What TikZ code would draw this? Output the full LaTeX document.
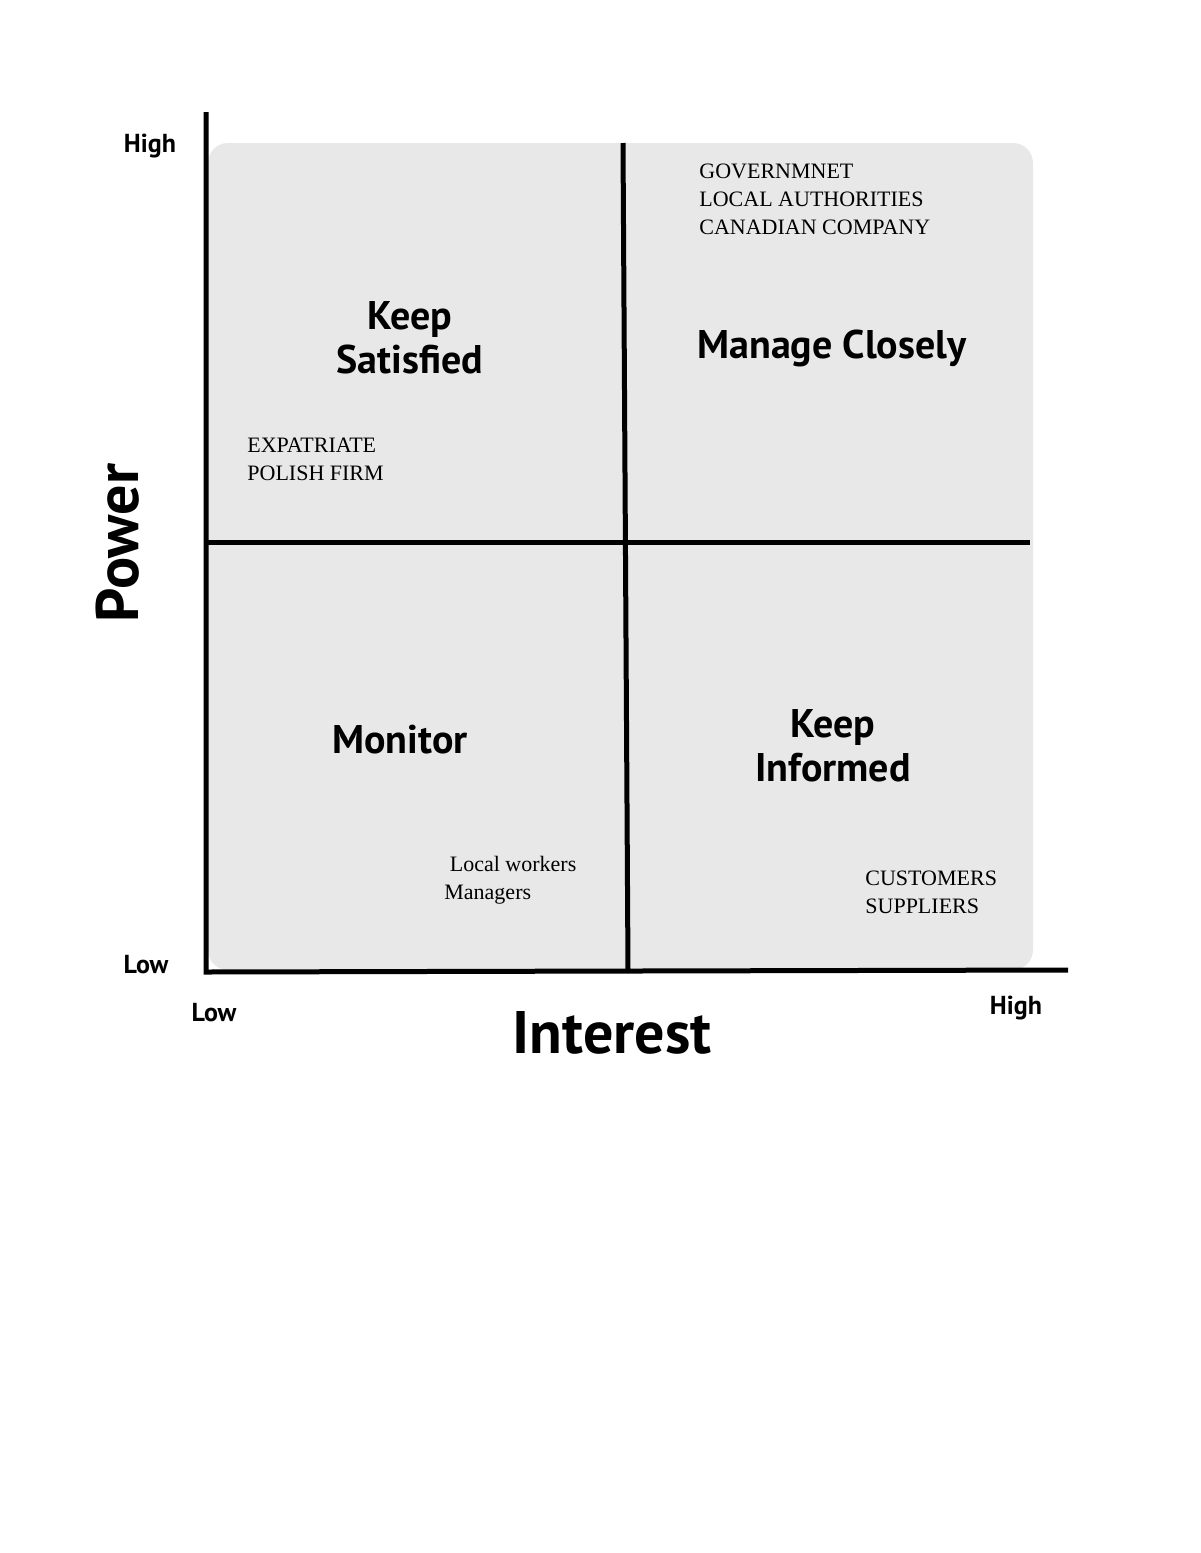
\documentclass[tikz,border=0pt]{standalone}
\usepackage{fontspec}
\setmainfont{Liberation Serif}
\setsansfont{PT Sans}
\begin{document}
\begin{tikzpicture}[x=0.5pt,y=-0.5pt,
  ttl/.style={font=\sffamily\bfseries\fontsize{20}{22}\selectfont,align=center},
  ax/.style={font=\sffamily\bfseries\fontsize{13}{15}\selectfont},
  big/.style={font=\sffamily\bfseries\fontsize{30}{32}\selectfont},
  nm/.style={font=\fontsize{11}{14}\selectfont,align=left,anchor=north west,inner sep=0},
  ln/.style={line width=2.5pt}]
\useasboundingbox (0,0) rectangle (1200,1553);
\fill[gray!18,rounded corners=10pt] (208,143) rectangle (1033,970);
\draw[ln] (623,143) -- (628,970);
\draw[ln] (208,542) -- (1030,542);
\draw[ln] (206,112) -- (206,972) -- (1068,970);
\node[ax] (h1) at (150,146) {High};
\node[ax] (l1) at (146,965) {Low};
\node[ax] (l2) at (214,1013) {Low};
\node[ax] (h2) at (1016,1008) {High};
\node[big,rotate=90] (p) at (118,543) {Power};
\node[big] (i) at (612,1033) {Interest};
\node[ttl] (ks) at (410,338) {Keep\\Satisfied};
\node[ttl] (mc) at (832,348) {Manage Closely};
\node[ttl] (mo) at (400,740) {Monitor};
\node[ttl] (ki) at (833,746) {Keep\\Informed};
\node[nm] (g) at (699,164) {GOVERNMNET\\LOCAL AUTHORITIES\\CANADIAN COMPANY};
\node[nm] (e) at (247,438) {EXPATRIATE\\POLISH FIRM};
\node[nm] (w) at (444,856) {\ Local workers\\Managers};
\node[nm] (c) at (865,871) {CUSTOMERS\\SUPPLIERS};
\end{tikzpicture}
\end{document}
